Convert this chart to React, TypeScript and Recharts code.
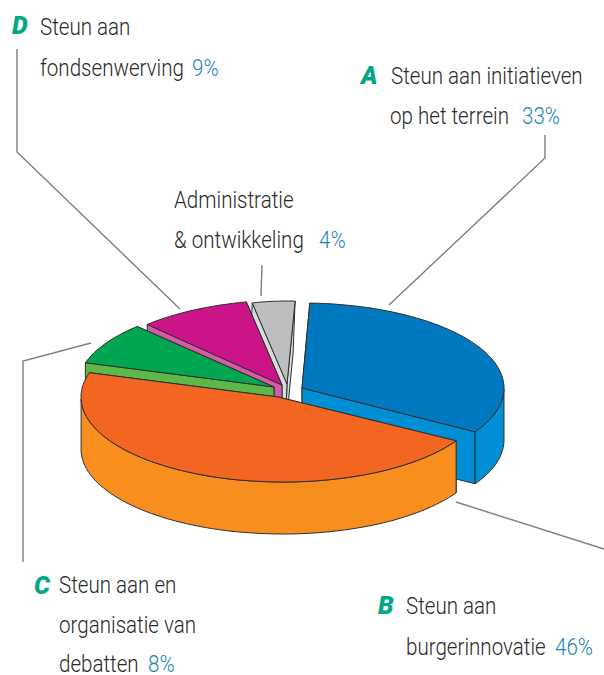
import React from 'react';
import { PieChart, Pie } from 'recharts';

// drawn back to front, counter-clockwise: blue, grey, magenta, green, orange
const categories = ['Initiatieven', 'Administratie', 'Fondsenwerving', 'Debatten', 'Burgerinnovatie'];
const shares = [33, 4, 9, 8, 46];

const chartData = categories.map((name, i) => ({ name, value: shares[i] }));

const CHART_CX = 283;
const CHART_CY = 397;
const RADIUS = 202;
const SQUASH = 85 / 202;
const DEPTH = 52;

// explode offsets of the arc centre and of the visible tip, per slice
const SLICE_STYLE: Record<string, any> = {
  Initiatieven: { top: '#0079C1', wall: '#008FD5', dx: 19, dy: -9, tipX: 0, tipY: 0, rx: 1, skew: 0 },
  Administratie: { top: '#BCBEC0', wall: '#D9DADB', dx: 5.5, dy: -11, tipX: -1.5, tipY: -2, rx: 0.85, skew: -2 },
  Fondsenwerving: { top: '#CC1489', wall: '#D65AA5', dx: 6, dy: -12, tipX: -7, tipY: 0, rx: 1, skew: 0 },
  Debatten: { top: '#00A651', wall: '#5CB947', dx: -4, dy: -10, tipX: -5, tipY: 0, rx: 1, skew: 0 },
  Burgerinnovatie: { top: '#F36621', wall: '#F78E1E', dx: 0, dy: 0, tipX: -5, tipY: 0, rx: 1, skew: 0 },
};

const OUTLINE = '#2f2f2f';
const toPts = (pts: number[][]) => pts.map((p) => `${p[0].toFixed(1)},${p[1].toFixed(1)}`).join(' ');

const Slice3D = (props: any) => {
  const { cx, cy, outerRadius, startAngle, endAngle, name } = props;
  const s = SLICE_STYLE[name];
  const ox = cx + s.dx;
  const oy = cy + s.dy;
  const rx = outerRadius * s.rx;
  const ry = outerRadius * SQUASH;
  const at = (deg: number) => {
    const a = (deg * Math.PI) / 180;
    return [ox + rx * Math.cos(a), oy - ry * Math.sin(a)];
  };
  const down = (p: number[]) => [p[0] + s.skew, p[1] + DEPTH];
  const tip = [ox + s.tipX, oy + s.tipY];

  const arc: number[][] = [];
  for (let a = startAngle; a < endAngle; a += 2) arc.push(at(a));
  arc.push(at(endAngle));

  // radial walls, the one further back first
  const corners = [at(startAngle), at(endAngle)].sort((p, q) => p[1] - q[1]);

  // outer wall only where it faces the viewer
  const front: number[][] = [];
  for (let a = startAngle; a <= endAngle; a += 2) {
    if (Math.sin((a * Math.PI) / 180) <= 0) front.push(at(a));
  }
  if (Math.sin((endAngle * Math.PI) / 180) <= 0) front.push(at(endAngle));

  return (
    <g>
      {corners.map((c, i) => (
        <polygon key={i} points={toPts([tip, c, down(c), down(tip)])} fill={s.wall} stroke={OUTLINE} strokeWidth={1} />
      ))}
      {front.length > 1 && (
        <polygon
          points={toPts([...front, ...front.slice().reverse().map(down)])}
          fill={s.wall}
          stroke={OUTLINE}
          strokeWidth={1}
        />
      )}
      <polygon points={toPts([tip, ...arc])} fill={s.top} stroke={OUTLINE} strokeWidth={1} strokeLinejoin="round" />
    </g>
  );
};

const leaderLines = [
  '17,49 17,152 180,309',
  '545,135 545,158 389,305',
  '262,265 261,296',
  '91,343 23,361 23,562',
  '456,502 604,549',
];

const letters = [
  { text: 'D', x: 12, y: 34 },
  { text: 'A', x: 361, y: 84 },
  { text: 'C', x: 34, y: 594 },
  { text: 'B', x: 378, y: 614 },
];

const textLines = [
  { text: 'Steun aan', x: 40, y: 35 },
  { text: 'fondsenwerving', x: 40, y: 76 },
  { text: 'Steun aan initiatieven', x: 391, y: 84 },
  { text: 'op het terrein', x: 390, y: 124 },
  { text: 'Administratie', x: 174, y: 208 },
  { text: '& ontwikkeling', x: 174, y: 248 },
  { text: 'Steun aan en', x: 59, y: 593 },
  { text: 'organisatie van', x: 59, y: 633 },
  { text: 'debatten', x: 59, y: 672 },
  { text: 'Steun aan', x: 406, y: 614 },
  { text: 'burgerinnovatie', x: 406, y: 655 },
];

const percentLabels = [
  { text: '9%', x: 192, y: 76 },
  { text: '33%', x: 522, y: 124 },
  { text: '4%', x: 319, y: 248 },
  { text: '8%', x: 148, y: 672 },
  { text: '46%', x: 555, y: 655 },
];

const FONT = 'Roboto, sans-serif';
const NARROW = 0.84;

const Narrow = ({ x, y, fill, children }: any) => (
  <text
    transform={`translate(${x} ${y}) scale(${NARROW} 1)`}
    fontFamily={FONT}
    fontSize={24.5}
    fontWeight={300}
    fill={fill}
  >
    {children}
  </text>
);

export default function App() {
  return (
    <div style={{ position: 'absolute', left: 0, top: 0, width: 604, height: 675, overflow: 'hidden' }}>
      <PieChart width={604} height={675} margin={{ top: 0, right: 0, bottom: 0, left: 0 }}>
        <Pie
          data={chartData}
          dataKey="value"
          nameKey="name"
          cx={CHART_CX}
          cy={CHART_CY}
          innerRadius={0}
          outerRadius={RADIUS}
          startAngle={-31}
          endAngle={329}
          paddingAngle={0}
          shape={Slice3D}
          label={false}
          labelLine={false}
          isAnimationActive={false}
        />
        {leaderLines.map((pts) => (
          <polyline key={pts} points={pts} fill="none" stroke="#7f7f7f" strokeWidth={1.4} />
        ))}
        {textLines.map((t) => (
          <Narrow key={t.text + t.x} x={t.x} y={t.y} fill="#2a2a2a">
            {t.text}
          </Narrow>
        ))}
        {percentLabels.map((t) => (
          <Narrow key={t.text} x={t.x} y={t.y} fill="#1d85b9">
            {t.text}
          </Narrow>
        ))}
        {letters.map((t) => (
          <text key={t.text} x={t.x} y={t.y} fontFamily={FONT} fontSize={25} fontWeight={900} fontStyle="italic" fill="#00a886">
            {t.text}
          </text>
        ))}
      </PieChart>
    </div>
  );
}
